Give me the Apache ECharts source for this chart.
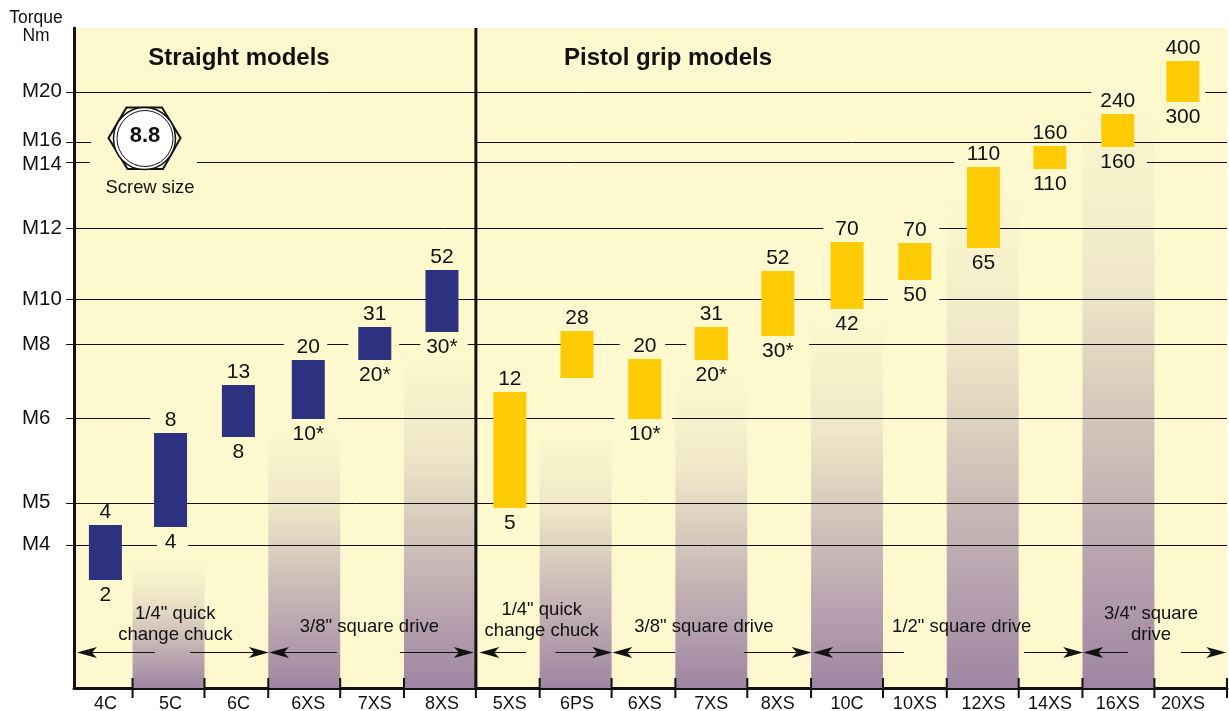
<!DOCTYPE html>
<html>
<head>
<meta charset="utf-8">
<title>Torque range by model</title>
<style>
  html, body { margin: 0; padding: 0; background: #fff; }
  #chart { width: 1229px; height: 711px; }
</style>
<script src="https://cdn.jsdelivr.net/npm/echarts@6/dist/echarts.min.js"></script>
</head>
<body>
<div id="chart"></div>
<script>
// x axis runs in model slots, y axis is the chart's own non-linear torque scale
const models = ["4C", "5C", "6C", "6XS", "7XS", "8XS", "5XS", "6PS", "6XS", "7XS", "8XS", "10C", "10XS", "12XS", "14XS", "16XS", "20XS"];
const modelSlots = [0.07, 1.03, 2.03, 3.06, 4.04, 5.03, 6.03, 7.02, 8.02, 9, 9.98, 11, 12, 13.01, 13.99, 14.99, 15.95];
const torqueHigh = ["4", "8", "13", "20", "31", "52", "12", "28", "20", "31", "52", "70", "70", "110", "160", "240", "400"];
const torqueLow = ["2", "4", "8", "10*", "20*", "30*", "5", "", "10*", "20*", "30*", "42", "50", "65", "110", "160", "300"];
const scaleHigh = [163, 255, 303, 328, 361, 418, 296, 357, 329, 361, 417, 446, 445, 521, 542, 574, 627];
const scaleLow = [108, 161, 251, 269, 328, 356, 180, 310, 269, 328, 352, 379, 408, 440, 519, 541, 586];
const straightCount = 6;

const screwSizes = ["M4", "M5", "M6", "M8", "M10", "M12", "M14", "M16", "M20"];
const screwScale = [142.5, 184.5, 269.5, 343.5, 388.5, 459.5, 525.5, 545.5, 595.5];
// stretches of each screw line, in model slots
const screwRuns = [
  [[-0.51, 0.83], [1.29, 16.6]],
  [[-0.51, 16.6]],
  [[-0.51, 0.73], [3.5, 7.57], [8.42, 16.6]],
  [[-0.51, 2.7], [3.34, 3.65], [4.4, 4.71], [5.41, 7.65], [8.32, 8.63], [10.44, 16.6]],
  [[-0.51, 11.6], [12.36, 16.6]],
  [[-0.51, 10.65], [12.36, 16.6]],
  [[-0.51, -0.16], [1.42, 12.58], [15.42, 16.6]],
  [[-0.51, -0.14], [5.53, 16.6]],
  [[-0.51, 14.6], [16.28, 16.6]]
];
// how far each screw label sits above its line
const screwLabelLift = [1, 1, 0.5, 0, 0, 0.5, -2, 2.5, 1];

// shaded columns behind every second model
const shadedSlots = [1, 3, 5, 7, 9, 11, 13, 15];
const shadedTops = [128, 261, 335, 255, 308, 368, 488, 578];
const tickSlots = [0.47, 1.53, 2.47, 3.53, 4.47, 5.53, 6.47, 7.53, 8.47, 9.53, 10.47, 11.53, 12.47, 13.53, 14.47, 15.53, 16.6];

// drive groups: arrow tip, line end, line start, arrow tip
const driveArrows = [
  [-0.35, 0.8, 1.32, 2.48],
  [2.48, 3.48, 4.41, 5.5],
  [5.58, 6.27, 6.7, 7.54],
  [7.54, 8.47, 9.48, 10.48],
  [10.5, 11.84, 13.61, 14.48],
  [14.48, 15.14, 15.92, 16.59]
];
const driveLabels = ['1/4" quick\nchange chuck', '3/8" square drive', '1/4" quick\nchange chuck', '3/8" square drive', '1/2" square drive', '3/4" square\ndrive'];
const driveLabelSlots = [1.1, 3.96, 6.5, 8.89, 12.69, 15.48];
const driveLabelScale = [63.5, 61, 67.5, 61, 61, 63.5];

const arrowScale = 35.5;
const bg = "#fdf8ce";
const ink = "#111111";
const font = "Liberation Sans";

const chart = echarts.init(document.getElementById("chart"));

function arrowHead(tip, y, dir) {
  return {
    type: "polygon",
    shape: { points: [[tip, y], [tip + dir * 20, y - 5.5], [tip + dir * 15, y], [tip + dir * 20, y + 5.5]] },
    style: { fill: ink }
  };
}

// rich styles that lift each screw label off its line
const screwRich = {};
screwLabelLift.forEach((lift, i) => {
  screwRich["s" + i] = {
    color: ink, fontSize: 20.5, fontFamily: font,
    padding: lift > 0 ? [0, 0, lift * 2, 0] : [-lift * 2, 0, 0, 0]
  };
});

const option = {
  backgroundColor: "#ffffff",
  animation: false,
  textStyle: { fontFamily: font },
  grid: { left: 74, right: 2, top: 28, bottom: 23, outerBoundsMode: "none", show: true, backgroundColor: bg, borderWidth: 0 },
  xAxis: {
    type: "value",
    min: -0.393,
    max: 16.6,
    splitLine: { show: false },
    axisTick: { show: false },
    axisLine: { onZero: false, lineStyle: { color: ink, width: 3 } },
    axisLabel: {
      customValues: modelSlots,
      formatter: v => models[modelSlots.indexOf(v)],
      color: ink, fontSize: 18, fontFamily: font, margin: 7
    }
  },
  yAxis: {
    type: "value",
    min: 0,
    max: 660,
    splitLine: { show: false },
    axisTick: { show: false },
    axisLine: { show: true, onZero: false, lineStyle: { color: ink, width: 3 } },
    axisLabel: {
      customValues: screwScale,
      formatter: v => {
        const i = screwScale.indexOf(v);
        return "{s" + i + "|" + screwSizes[i] + "}";
      },
      rich: screwRich,
      align: "left",
      color: ink, fontSize: 20.5, fontFamily: font, margin: 52
    }
  },
  series: [
    {
      // shaded columns
      type: "custom",
      z: 1,
      silent: true,
      data: shadedSlots.map((s, i) => [s, shadedTops[i]]),
      renderItem: function (params, api) {
        const a = api.coord([api.value(0) - 0.53, api.value(1)]);
        const b = api.coord([api.value(0) + 0.53, 0]);
        return {
          type: "rect",
          shape: { x: a[0], y: a[1], width: b[0] - a[0], height: b[1] - a[1] },
          style: {
            fill: new echarts.graphic.LinearGradient(0, 0, 0, 1, [
              { offset: 0, color: bg },
              { offset: 0.3, color: "#efe7c8" },
              { offset: 1, color: "#9f85a3" }
            ])
          }
        };
      }
    },
    {
      // screw size lines
      type: "custom",
      z: 2,
      silent: true,
      data: screwScale.map((v, i) => [v, i]),
      renderItem: function (params, api) {
        const y = api.value(0);
        const runs = screwRuns[api.value(1)];
        return {
          type: "group",
          children: runs.map(r => {
            const p = api.coord([r[0], y]);
            const q = api.coord([r[1], y]);
            return {
              type: "line",
              shape: { x1: p[0], y1: p[1], x2: q[0], y2: q[1] },
              style: { stroke: ink, lineWidth: 1 }
            };
          })
        };
      }
    },
    {
      // torque bars with their limits
      type: "custom",
      z: 4,
      silent: true,
      data: models.map((m, i) => [modelSlots[i], scaleHigh[i], scaleLow[i]]),
      renderItem: function (params, api) {
        const i = params.dataIndex;
        const top = api.coord([api.value(0), api.value(1)]);
        const bot = api.coord([api.value(0), api.value(2)]);
        const common = { fill: ink, font: "21px " + font, align: "center", verticalAlign: "middle" };
        return {
          type: "group",
          children: [
            {
              type: "rect",
              shape: { x: top[0] - 16.5, y: top[1], width: 33, height: bot[1] - top[1] },
              style: { fill: i < straightCount ? "#2c327f" : "#fdcc06" }
            },
            { type: "text", style: Object.assign({ text: torqueHigh[i], x: top[0], y: top[1] - 13 }, common) },
            { type: "text", style: Object.assign({ text: torqueLow[i], x: bot[0], y: bot[1] + 15 }, common) }
          ]
        };
      }
    },
    {
      // divider between straight and pistol grip models
      type: "custom",
      z: 5,
      silent: true,
      data: [[5.53]],
      renderItem: function (params, api) {
        const p = api.coord([api.value(0), 660]);
        const q = api.coord([api.value(0), 0]);
        return {
          type: "line",
          shape: { x1: p[0], y1: p[1], x2: q[0], y2: q[1] },
          style: { stroke: ink, lineWidth: 3 }
        };
      }
    },
    {
      // ticks across the x axis at the column edges
      type: "custom",
      z: 6,
      silent: true,
      data: tickSlots.map(t => [t]),
      renderItem: function (params, api) {
        const p = api.coord([api.value(0), 0]);
        return {
          type: "line",
          shape: { x1: p[0], y1: p[1] - 10, x2: p[0], y2: p[1] + 10 },
          style: { stroke: ink, lineWidth: 2 }
        };
      }
    },
    {
      // drive arrows
      type: "custom",
      z: 6,
      silent: true,
      data: driveArrows,
      renderItem: function (params, api) {
        const y = api.coord([0, arrowScale])[1];
        const x = [0, 1, 2, 3].map(k => api.coord([api.value(k), 0])[0]);
        const seg = (a, b) => ({
          type: "line",
          shape: { x1: a, y1: y, x2: b, y2: y },
          style: { stroke: ink, lineWidth: 1 }
        });
        return {
          type: "group",
          children: [seg(x[0] + 15, x[1]), seg(x[2], x[3] - 15), arrowHead(x[0], y, 1), arrowHead(x[3], y, -1)]
        };
      }
    },
    {
      // drive labels
      type: "custom",
      z: 7,
      silent: true,
      data: driveLabels.map((t, i) => [driveLabelSlots[i], driveLabelScale[i]]),
      renderItem: function (params, api) {
        const p = api.coord([api.value(0), api.value(1)]);
        return {
          type: "text",
          style: {
            text: driveLabels[params.dataIndex],
            x: p[0], y: p[1],
            fill: ink, font: "18.5px " + font, lineHeight: 21,
            align: "center", verticalAlign: "middle"
          }
        };
      }
    }
  ],
  graphic: [
    { type: "text", x: 36, y: 18, style: { text: "Torque", fill: ink, font: "17.5px " + font, align: "center", verticalAlign: "middle" } },
    { type: "text", x: 36, y: 36, style: { text: "Nm", fill: ink, font: "17.5px " + font, align: "center", verticalAlign: "middle" } },
    { type: "text", x: 239, y: 58, z: 10, style: { text: "Straight models", fill: ink, font: "bold 24px " + font, align: "center", verticalAlign: "middle" } },
    { type: "text", x: 668, y: 58, z: 10, style: { text: "Pistol grip models", fill: ink, font: "bold 24px " + font, align: "center", verticalAlign: "middle" } },
    { type: "text", x: 150, y: 188, z: 10, style: { text: "Screw size", fill: ink, font: "18.4px " + font, align: "center", verticalAlign: "middle" } },
    // bolt head icon
    {
      type: "polygon", z: 10,
      shape: { points: [[108.5, 138], [126.5, 107.5], [162, 107.5], [180.5, 138], [163, 169], [127.5, 169]] },
      style: { fill: bg, stroke: ink, lineWidth: 2 }
    },
    {
      type: "circle", z: 10,
      shape: { cx: 144.5, cy: 138.5, r: 31 },
      style: { fill: "#ffffff", stroke: ink, lineWidth: 1.5 }
    },
    {
      type: "circle", z: 10,
      shape: { cx: 145, cy: 138.5, r: 28 },
      style: { fill: "#ffffff", stroke: ink, lineWidth: 1 }
    },
    { type: "text", x: 145, y: 136, z: 11, style: { text: "8.8", fill: ink, font: "bold 22px " + font, align: "center", verticalAlign: "middle" } }
  ]
};

chart.setOption(option);
</script>
</body>
</html>
